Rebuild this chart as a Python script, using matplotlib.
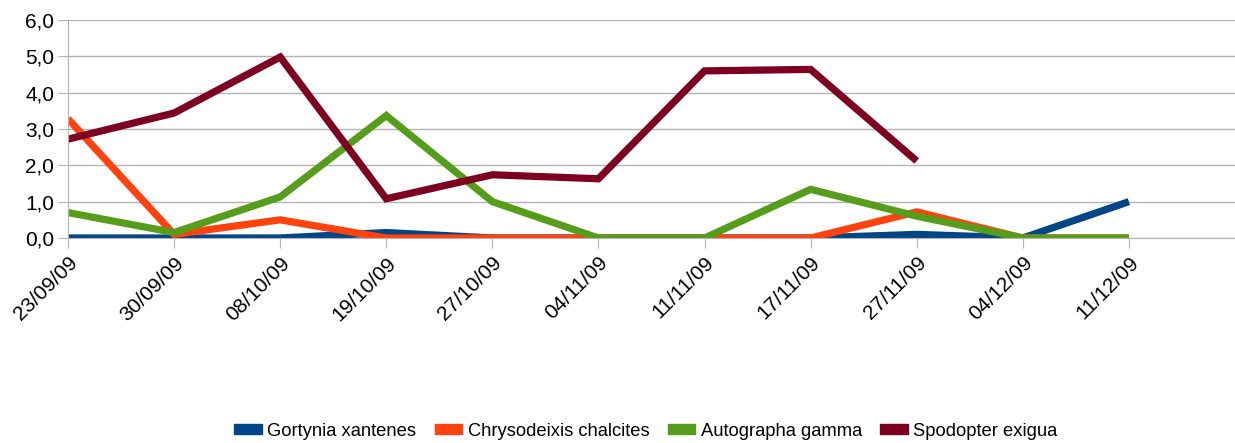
import numpy as np
import matplotlib
matplotlib.use('Agg')
import matplotlib.pyplot as plt
from matplotlib.patches import Patch
from matplotlib.ticker import FuncFormatter

dates = ['23/09/09', '30/09/09', '08/10/09', '19/10/09', '27/10/09', '04/11/09',
         '11/11/09', '17/11/09', '27/11/09', '04/12/09', '11/12/09']

gortynia = [0, 0, 0, 0.15, 0, 0, 0, 0, 0.1, 0, 1.0]
chrysodeixis = [3.28, 0.1, 0.5, 0, 0, 0, 0, 0, 0.72, 0, 0]
autographa = [0.7, 0.15, 1.13, 3.37, 1.0, 0, 0, 1.34, 0.6, 0, 0]
spodoptera = [2.72, 3.44, 4.98, 1.08, 1.74, 1.63, 4.6, 4.64, 2.12, np.nan, np.nan]

names = ['Gortynia xantenes', 'Chrysodeixis chalcites', 'Autographa gamma', 'Spodopter exigua']
colors = ['#004586', '#ff420e', '#579d1c', '#7e0021']

plt.rcParams['font.family'] = ['Liberation Sans', 'DejaVu Sans']

fig = plt.figure(figsize=(12.35, 4.43), dpi=100)
ax = fig.add_axes([68 / 1235, 1 - 238 / 443, 1 - 68 / 1235, 218 / 443])

x = np.arange(len(dates))
for series, c in zip([gortynia, chrysodeixis, autographa, spodoptera], colors):
    ax.plot(x, series, color=c, linewidth=5.2, solid_joinstyle='miter', solid_capstyle='butt')

ax.set_xlim(0, len(dates))
ax.set_ylim(0, 6)
ax.set_yticks(range(7))
ax.yaxis.set_major_formatter(FuncFormatter(lambda v, p: f'{v:.1f}'.replace('.', ',')))
ax.set_xticks(x)
ax.set_xticklabels(dates, rotation=45, ha='right', rotation_mode='anchor')

ax.grid(axis='y', color='#b3b3b3', linewidth=1)
ax.set_axisbelow(True)
for s in ['top', 'right']:
    ax.spines[s].set_visible(False)
ax.spines['left'].set_color('#b3b3b3')
ax.spines['bottom'].set_color('#b3b3b3')
ax.tick_params(axis='both', colors='#b3b3b3', labelcolor='black', labelsize=15, length=7)
ax.tick_params(axis='x', pad=4)
ax.tick_params(axis='y', pad=3)

handles = [Patch(color=c) for c in colors]
fig.legend(handles, names, loc='lower center', bbox_to_anchor=(0.523, -0.03), ncol=4,
           frameon=False, fontsize=13.2, handlelength=1.5, handleheight=0.45,
           columnspacing=1.0, handletextpad=0.3)

plt.savefig('out.png', dpi=100)
